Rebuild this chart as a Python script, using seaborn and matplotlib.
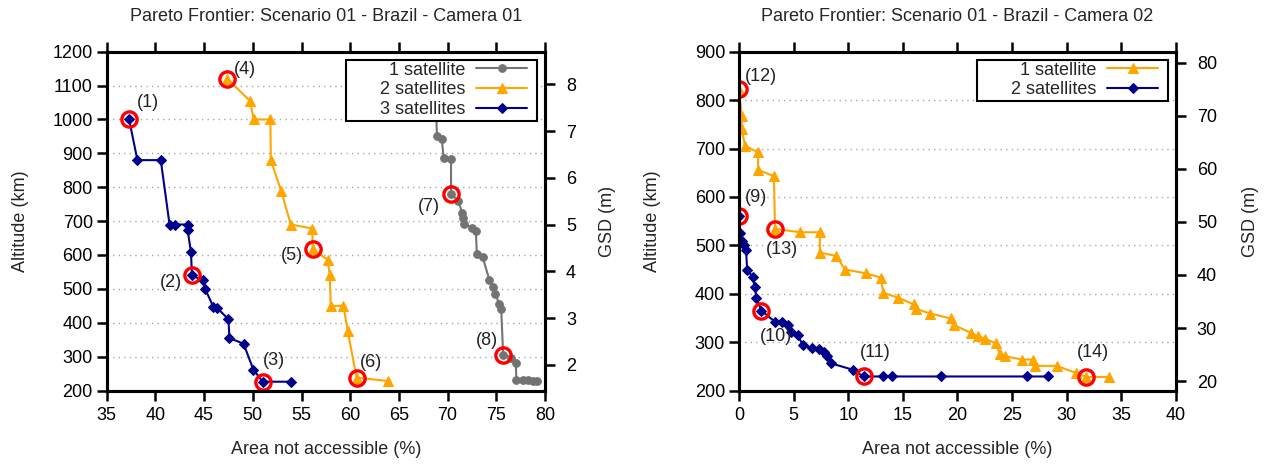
import matplotlib
matplotlib.use("Agg")
import matplotlib.pyplot as plt
import matplotlib.patches as mpatches
import seaborn as sns

# Camera 01 - 1 satellite
c1_sat1_area = [68.75, 68.9, 69.4, 69.6, 70.35, 70.35, 71.1, 71.5, 71.6, 71.7, 72.5, 72.9, 73.0, 73.6,
                74.3, 74.65, 74.9, 75.3, 75.5, 75.7, 76.55, 77.0, 77.06, 77.7, 78.3, 78.8, 79.2]
c1_sat1_alt = [1100, 950, 941, 885, 882, 780, 760, 724, 708, 691, 681, 671, 604, 594,
               525, 506, 484, 456, 442, 305, 297, 281, 232, 231, 230, 229, 229]
# Camera 01 - 2 satellites
c1_sat2_area = [47.4, 49.7, 50.1, 51.8, 51.85, 52.9, 53.9, 56.1, 56.15, 57.7, 57.9, 58.0, 59.3, 59.75, 60.65, 63.9]
c1_sat2_alt = [1120, 1055, 1000, 1000, 880, 790, 690, 678, 618, 585, 540, 450, 450, 375, 238, 228]
# Camera 01 - 3 satellites
c1_sat3_area = [37.3, 38.15, 40.55, 41.45, 42.05, 43.3, 43.3, 43.65, 43.75, 44.85, 45.1, 45.95, 46.3,
                47.5, 47.6, 49.05, 50.05, 51.0, 53.9]
c1_sat3_alt = [1000, 880, 880, 690, 690, 690, 675, 608, 540, 525, 500, 447, 445,
               410, 355, 338, 262, 226, 226]

# Camera 02 - 1 satellite
c2_sat1_area = [0.0, 0.25, 0.25, 0.55, 1.75, 1.75, 3.2, 3.3, 5.6, 7.4, 7.4, 8.9, 9.7, 11.65, 13.0, 13.2,
                14.55, 16.0, 16.2, 17.5, 19.4, 19.7, 21.25, 21.85, 22.5, 23.5, 23.9, 24.35, 25.9, 26.95,
                27.1, 29.1, 30.85, 31.8, 33.9]
c2_sat1_alt = [822, 768, 740, 706, 692, 656, 643, 534, 527, 527, 485, 478, 450, 442, 433, 402,
               392, 378, 369, 359, 349, 335, 319, 312, 307, 298, 275, 271, 264, 264,
               251, 251, 236, 228, 228]
# Camera 02 - 2 satellites
c2_sat2_area = [0.0, 0.05, 0.25, 0.45, 0.65, 0.75, 1.25, 1.45, 1.6, 2.05, 3.3, 3.9, 4.5, 4.8, 5.4, 5.85,
                6.65, 7.35, 7.75, 8.05, 8.45, 10.4, 11.4, 13.2, 14.05, 18.5, 26.4, 28.3]
c2_sat2_alt = [560, 526, 509, 500, 490, 449, 435, 413, 392, 365, 342, 342, 335, 321, 314, 293,
               288, 285, 279, 272, 256, 243, 229, 229, 229, 229, 229, 229]

# highlighted solutions: (label, series, index, text offset in pixels)
c1_marks = [("(1)", "s3", 0, (19, 17)), ("(2)", "s3", 8, (-21, -7)), ("(3)", "s3", 17, (11, 21)),
            ("(4)", "s2", 0, (17, 9)), ("(5)", "s2", 8, (-21, -7)), ("(6)", "s2", 14, (14, 15)),
            ("(7)", "s1", 5, (-22, -12)), ("(8)", "s1", 19, (-16, 14))]
c2_marks = [("(9)", "s2", 0, (17, 19)), ("(10)", "s2", 9, (15, -26)), ("(11)", "s2", 22, (12, 24)),
            ("(12)", "s1", 0, (22, 13)), ("(13)", "s1", 7, (7, -21)), ("(14)", "s1", 33, (7, 24))]

FS = 13

sns.set_style("ticks")
plt.rcParams['font.family'] = ['Liberation Sans', 'DejaVu Sans']
plt.rcParams['font.size'] = FS
plt.rcParams['axes.linewidth'] = 2.2
plt.rcParams['xtick.major.width'] = 1.8
plt.rcParams['ytick.major.width'] = 1.8
plt.rcParams['xtick.major.size'] = 7
plt.rcParams['ytick.major.size'] = 7
plt.rcParams['xtick.color'] = 'black'
plt.rcParams['ytick.color'] = 'black'
plt.rcParams['axes.edgecolor'] = 'black'

GRAY = '#737373'
ORANGE = '#ffa500'
NAVY = '#00008b'

fig = plt.figure(figsize=(12.66, 4.66), dpi=100)
ax1 = fig.add_axes([0.0843, 0.162, 0.3462, 0.727])
ax2 = fig.add_axes([0.5837, 0.162, 0.3452, 0.727])


def draw_series(ax, x, y, color, marker, ms, label):
    sns.lineplot(x=x, y=y, ax=ax, sort=False, estimator=None, color=color, marker=marker,
                 markersize=ms, markeredgecolor=color, linewidth=1.5, label=label, zorder=3)


def draw_marks(ax, marks, series):
    for text, key, i, off in marks:
        xs, ys = series[key]
        ax.plot(xs[i], ys[i], 'o', markersize=11, markerfacecolor='none', markeredgecolor='#ff0000',
                markeredgewidth=2.4, zorder=4, label='_nolegend_')
        ax.annotate(text, (xs[i], ys[i]), xytext=off, textcoords='offset pixels',
                    ha='center', va='center', fontsize=FS, color='#222222')


def style_axes(ax, xlim, xticks, ylim, yticks, title, gsd_div, gsd_ticks, ylab_x, gsd_x):
    ax.set_xlim(*xlim)
    ax.set_ylim(*ylim)
    ax.set_xticks(xticks)
    ax.set_yticks(yticks)
    ax.tick_params(axis='x', direction='out', top=True, bottom=True, pad=5)
    ax.tick_params(axis='y', direction='out', left=True, right=False, pad=3)
    for yv in yticks[1:-1]:
        ax.axhline(yv, color='#a8a8a8', linestyle=(0, (1, 3)), linewidth=1.0, zorder=1)
    ax.set_xlabel('Area not accessible (%)', labelpad=12)
    ax.set_ylabel('Altitude (km)')
    ax.yaxis.set_label_coords(ylab_x, 0.5)
    ax.set_title(title, pad=22, fontsize=FS)
    for s in ax.spines.values():
        s.set_visible(True)
    tw = ax.twinx()
    tw.set_ylim(ylim[0] / gsd_div, ylim[1] / gsd_div)
    tw.set_yticks(gsd_ticks)
    tw.tick_params(axis='y', direction='out', pad=8)
    tw.set_ylabel('GSD (m)')
    tw.yaxis.set_label_coords(gsd_x, 0.5)
    for s in tw.spines.values():
        s.set_linewidth(2.2)
    return tw


# Camera 01
draw_series(ax1, c1_sat1_area, c1_sat1_alt, GRAY, 'o', 5.5, '1 satellite')
draw_series(ax1, c1_sat2_area, c1_sat2_alt, ORANGE, '^', 6.5, '2 satellites')
draw_series(ax1, c1_sat3_area, c1_sat3_alt, NAVY, 'D', 5, '3 satellites')
draw_marks(ax1, c1_marks, {"s1": (c1_sat1_area, c1_sat1_alt), "s2": (c1_sat2_area, c1_sat2_alt),
                           "s3": (c1_sat3_area, c1_sat3_alt)})
tw1 = style_axes(ax1, (35, 80), list(range(35, 81, 5)), (200, 1200), list(range(200, 1201, 100)),
                 'Pareto Frontier: Scenario 01 - Brazil - Camera 01', 138.0, list(range(2, 9)),
                 -0.177, 1.124)

# Camera 02
draw_series(ax2, c2_sat1_area, c2_sat1_alt, ORANGE, '^', 6.5, '1 satellite')
draw_series(ax2, c2_sat2_area, c2_sat2_alt, NAVY, 'D', 5, '2 satellites')
draw_marks(ax2, c2_marks, {"s1": (c2_sat1_area, c2_sat1_alt), "s2": (c2_sat2_area, c2_sat2_alt)})
tw2 = style_axes(ax2, (0, 40), list(range(0, 41, 5)), (200, 900), list(range(200, 901, 100)),
                 'Pareto Frontier: Scenario 01 - Brazil - Camera 02', 10.97, list(range(20, 81, 10)),
                 -0.178, 1.151)

# legends: labels right-aligned next to the handles, wide box drawn behind them
legends = []
for ax, tw in [(ax1, tw1), (ax2, tw2)]:
    h, l = ax.get_legend_handles_labels()
    ax.get_legend().remove()
    w = ax.get_position().width * fig.get_figwidth() * fig.dpi
    hgt = ax.get_position().height * fig.get_figheight() * fig.dpi
    leg = tw.legend(h, l, loc='upper right', bbox_to_anchor=(1 - 18 / w, 1 - 10 / hgt),
                    markerfirst=False, frameon=False, handlelength=2.8, borderaxespad=0,
                    borderpad=0, labelspacing=0.15, handletextpad=0.6, fontsize=FS)
    leg.set_zorder(10)
    legends.append((tw, leg))

fig.canvas.draw()
for tw, leg in legends:
    bb = leg.get_window_extent()
    inv = tw.transAxes.inverted()
    (x0, y0), (x1, y1) = inv.transform([(bb.x0 - 34, bb.y0 - 3), (bb.x1 + 10, bb.y1 + 2)])
    box = mpatches.Rectangle((x0, y0), x1 - x0, y1 - y0, transform=tw.transAxes, facecolor='white',
                             edgecolor='black', linewidth=1.5, zorder=9, clip_on=False)
    tw.add_patch(box)

fig.savefig('out.png', dpi=100)
